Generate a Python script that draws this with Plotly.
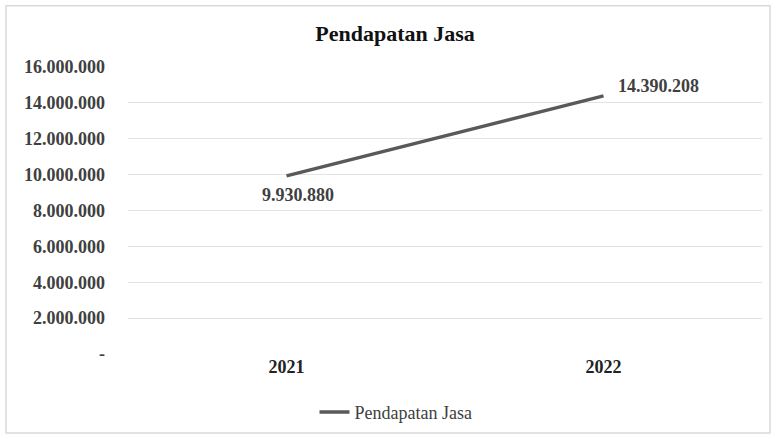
import plotly.graph_objects as go

years = ["2021", "2022"]
values = [9930880, 14390208]
y_ticks = [0, 2000000, 4000000, 6000000, 8000000, 10000000, 12000000, 14000000, 16000000]
series_name = "Pendapatan Jasa"
title = "Pendapatan Jasa"


def fmt(v):
    return "-" if v == 0 else f"{v:,}".replace(",", ".")


FONT = "Liberation Serif"
W, H = 778, 443
L, R, T, B = 128, 16, 67, 85

fig = go.Figure()
fig.add_trace(go.Scatter(
    x=years, y=values, mode="lines", name=series_name,
    line=dict(color="#595959", width=3.5),
    showlegend=True,
))

# data labels (placed at the data points through the axes, with pixel offsets)
label_style = [dict(xanchor="center", yanchor="middle", xshift=11, yshift=-19),
               dict(xanchor="left", yanchor="middle", xshift=12, yshift=10)]
for i, (v, st) in enumerate(zip(values, label_style)):
    fig.add_annotation(x=i, y=v, xref="x", yref="y", text="<b>" + fmt(v) + "</b>",
                       showarrow=False, font=dict(family=FONT, size=18, color="#404040"), **st)

pw = W - L - R
ph = H - T - B
fig.add_shape(type="rect", xref="paper", yref="paper",
              x0=(6 - L) / pw, x1=(770 - L) / pw,
              y0=-(438 - T - ph) / ph, y1=1 + (T - 5) / ph,
              line=dict(color="#d9d9d9", width=1.5), layer="below")

fig.update_layout(
    width=W, height=H,
    margin=dict(l=L, r=R, t=T, b=B),
    paper_bgcolor="white", plot_bgcolor="white",
    title=dict(text="<b>" + title + "</b>", x=(395 - L) / pw, xref="paper", xanchor="center",
               y=(H - 33) / H, yanchor="middle",
               font=dict(family=FONT, size=22, color="#111111")),
    legend=dict(orientation="h", x=(396 - L) / pw, xanchor="center", y=-(417 - T - ph) / ph, yanchor="middle",
                font=dict(family=FONT, size=18, color="#404040"), itemwidth=30),
    font=dict(family=FONT),
)
fig.update_xaxes(type="category", range=[-0.5, 1.5], showgrid=False, showline=False, ticks="",
                 tickfont=dict(family=FONT, size=18, color="#222222"),
                 tickprefix="<b>", ticksuffix="</b>")
fig.update_yaxes(range=[0, 16000000], tickvals=y_ticks, ticktext=["<b>" + fmt(v) + "</b>" for v in y_ticks],
                 showgrid=True, gridcolor="#e3e3e3", gridwidth=1, zeroline=False,
                 ticks="", ticklabelstandoff=22,
                 tickfont=dict(family=FONT, size=18, color="#404040"))

fig.write_html("out.html")
